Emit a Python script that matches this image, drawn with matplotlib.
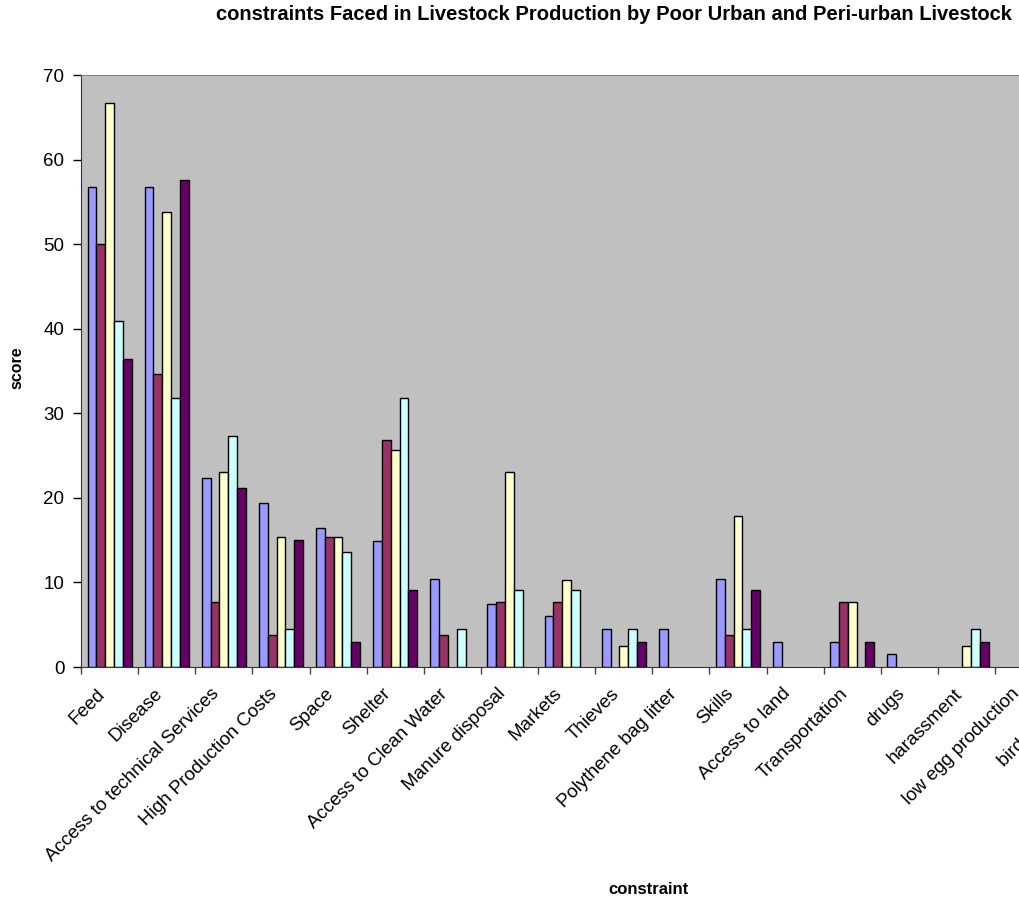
import numpy as np
import matplotlib
matplotlib.use("Agg")
import matplotlib.pyplot as plt
import matplotlib.transforms as mtransforms

plt.rcParams['font.family'] = ['Liberation Sans', 'DejaVu Sans']

# categories (the chart is cut off on the right; the last label only shows "bird...")
constraints = ['Feed', 'Disease', 'Access to technical Services', 'High Production Costs',
               'Space', 'Shelter', 'Access to Clean Water', 'Manure disposal', 'Markets',
               'Thieves', 'Polythene bag litter', 'Skills', 'Access to land',
               'Transportation', 'drugs', 'harassment', 'low egg production', 'birds of prey']

# five series, values (nan = no bar)
nan = np.nan
s1 = [56.7, 56.7, 22.3, 19.4, 16.4, 14.9, 10.4, 7.5, 6.0, 4.5, 4.5, 10.4, 3.0, 3.0, 1.5, nan, nan, nan]
s2 = [50.0, 34.6, 7.7, 3.8, 15.4, 26.9, 3.8, 7.7, 7.7, nan, nan, 3.8, nan, 7.7, nan, nan, nan, nan]
s3 = [66.7, 53.8, 23.1, 15.4, 15.4, 25.6, nan, 23.1, 10.3, 2.5, nan, 17.9, nan, 7.7, nan, 2.5, nan, nan]
s4 = [40.9, 31.8, 27.3, 4.5, 13.6, 31.8, 4.5, 9.1, 9.1, 4.5, nan, 4.5, nan, nan, nan, 4.5, nan, nan]
s5 = [36.4, 57.6, 21.2, 15.0, 3.0, 9.1, nan, nan, nan, 3.0, nan, 9.1, nan, 3.0, nan, 3.0, nan, nan]

series = [s1, s2, s3, s4, s5]
colors = ['#9999FF', '#993366', '#FFFFCC', '#CCFFFF', '#660066']

fig = plt.figure(figsize=(10.19, 9.01), dpi=100)
ncat = len(constraints)
# axes extends past the right edge of the figure, like the cropped original
ax = fig.add_axes([81 / 1019, 234 / 901, ncat * 57.13 / 1019, 592 / 901])
ax.set_facecolor('#C0C0C0')

x = np.arange(ncat)
bw = 0.154
for i, (vals, c) in enumerate(zip(series, colors)):
    ax.bar(x + (i - 2) * bw, vals, width=bw, color=c, edgecolor='black', linewidth=1.0)

ax.set_xlim(-0.5, ncat - 0.5)
ax.set_ylim(0, 70)
ax.set_yticks(np.arange(0, 71, 10))

ax.set_xticks(np.arange(-0.5, ncat, 1.0))
ax.set_xticklabels([])
ax.set_xticks(x, minor=True)
ax.set_xticklabels(constraints, minor=True, rotation=45, ha='right', va='center',
                   rotation_mode='anchor', fontsize=13.5)
ax.tick_params(axis='x', which='minor', length=0, pad=17.5)
ax.tick_params(axis='x', which='major', length=5, width=1, direction='out', color='#444444')
ax.tick_params(axis='y', length=6, width=1, direction='out', labelsize=13.5, pad=6)

# nudge the slanted labels a little to the left, as in the original
shift = mtransforms.ScaledTranslation(-0.07, 0, fig.dpi_scale_trans)
for lab in ax.get_xticklabels(minor=True):
    lab.set_transform(lab.get_transform() + shift)

for side in ['left', 'bottom']:
    ax.spines[side].set_color('#333333')
for side in ['top', 'right']:
    ax.spines[side].set_color('#808080')

fig.text(17 / 1019, 1 - 368 / 901, 'score', rotation=90, fontsize=11.5, fontweight='bold',
         ha='center', va='center')
fig.text(608 / 1019, 1 - 882 / 901, 'constraint', fontsize=12, fontweight='bold',
         ha='left', va='top')
fig.text(1012 / 1019, 1 - 15 / 901,
         'constraints Faced in Livestock Production by Poor Urban and Peri-urban Livestock',
         fontsize=14.5, fontweight='bold', ha='right', va='center')

fig.savefig('out.png', dpi=100)
